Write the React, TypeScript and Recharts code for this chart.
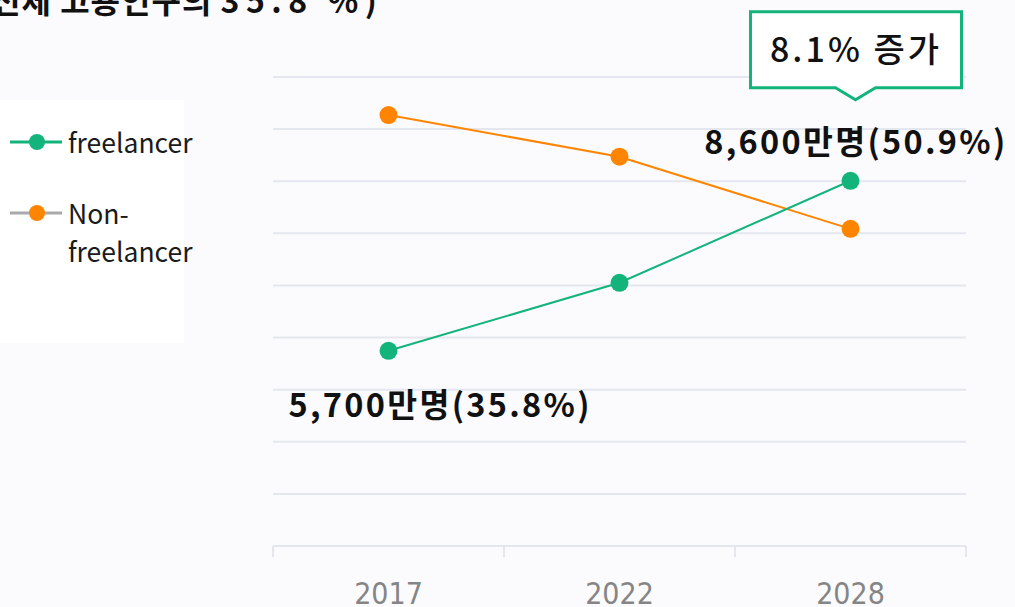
import React from "react";
import { LineChart, Line, XAxis, YAxis, CartesianGrid, LabelList } from "recharts";

const years = ["2017", "2022", "2028"];
// 단위: 백만 명
const freelancer = [57, 68.6, 86];
const nonFreelancer = [97.2, 90.1, 77.8];
const pointLabels = ["5,700만명(35.8%)", "", "8,600만명(50.9%)"];
const calloutText = "8.1% 증가";
const titleText = "전체 고용인구의 ";
const titleTail = "35.8 %)";

const Y_MIN = 23.7;
const Y_MAX = 103.7;
const yTicks = Array.from({ length: 10 }, (_, i) => Y_MIN + ((Y_MAX - Y_MIN) * i) / 9);

const GREEN = "#13b47b";
const ORANGE = "#ff8500";
const GRID = "#e4e7ee";
const FONT = "'Noto Sans CJK KR', 'Noto Sans', sans-serif";

const data = years.map((y, i) => ({ year: y, freelancer: freelancer[i], nonFreelancer: nonFreelancer[i], label: pointLabels[i] }));

function YearTick({ x, y, payload }: any) {
  const half = payload.offset ?? 0;
  return (
    <g>
      <line x1={x - half} x2={x - half} y1={y} y2={y + 11} stroke={GRID} strokeWidth={2} />
      <line x1={x + half} x2={x + half} y1={y} y2={y + 11} stroke={GRID} strokeWidth={2} />
      <text
        x={x}
        y={y + 58}
        textAnchor="middle"
        fill="#858585"
        fontSize={30}
        fontFamily="'Liberation Sans Narrow', 'DejaVu Sans Condensed', sans-serif"
      >
        {payload.value}
      </text>
    </g>
  );
}

function PointLabel({ x, y, index, value }: any) {
  if (!value) return null;
  const labelStyle = { fontSize: 32.5, fontWeight: 700, fontFamily: FONT, fill: "#111", letterSpacing: 2.3 } as any;
  if (index === 0) {
    return (
      <text x={x - 100} y={y + 66} {...labelStyle}>
        {value}
      </text>
    );
  }
  const l = x - 100, r = x + 111, t = y - 169, b = y - 93, tx = x + 5;
  return (
    <g>
      <path
        d={`M${l},${t} L${r},${t} L${r},${b} L${tx + 20},${b} L${tx},${b + 12} L${tx - 20},${b} L${l},${b} Z`}
        fill="#fff"
        stroke={GREEN}
        strokeWidth={3}
      />
      <text x={(l + r) / 2} y={t + 50} textAnchor="middle" fontSize={34} fontWeight={500} fontFamily={FONT} fill="#111" letterSpacing={3}>
        {calloutText}
      </text>
      <text x={x + 157} y={y - 27} textAnchor="end" {...labelStyle}>
        {value}
      </text>
    </g>
  );
}

function LegendBox() {
  const item = (stroke: string, dot: string, lines: string[], top: number) => (
    <div style={{ position: "absolute", left: 0, top, display: "flex", alignItems: "flex-start" }}>
      <svg width={68} height={30}>
        <line x1={10} x2={62} y1={15} y2={15} stroke={stroke} strokeWidth={3} />
        <circle cx={37} cy={15} r={8} fill={dot} />
      </svg>
      <div style={{ fontSize: 26.5, lineHeight: "38px", marginTop: -4, color: "#1a1a1a", fontFamily: FONT }}>
        {lines.map((s) => (
          <div key={s}>{s}</div>
        ))}
      </div>
    </div>
  );
  return (
    <div style={{ position: "absolute", left: 0, top: 100, width: 184, height: 243, background: "#fff" }}>
      {item(GREEN, GREEN, ["freelancer"], 27)}
      {item("#aaaaaa", ORANGE, ["Non-", "freelancer"], 98)}
    </div>
  );
}

export default function App() {
  return (
    <div style={{ position: "absolute", left: 0, top: 0, width: 1015, height: 607, background: "#fbfbfd", overflow: "hidden", fontFamily: FONT }}>
      <div style={{ position: "absolute", left: -9, top: -24, fontSize: 32, fontWeight: 700, color: "#111", whiteSpace: "nowrap", letterSpacing: 1 }}>
        {titleText}
        <span style={{ letterSpacing: 6.5 }}>{titleTail}</span>
      </div>
      <LegendBox />
      <div style={{ position: "absolute", left: 0, top: 0 }}>
        <LineChart width={1015} height={607} data={data} margin={{ top: 77, right: 49, bottom: 0, left: 273 }}>
          <CartesianGrid vertical={false} stroke={GRID} strokeWidth={2} />
          <XAxis
            dataKey="year"
            scale="band"
            height={61}
            axisLine={{ stroke: GRID, strokeWidth: 2 }}
            tickLine={false}
            tickSize={0}
            tickMargin={0}
            tick={<YearTick />}
            interval={0}
          />
          <YAxis hide domain={[Y_MIN, Y_MAX]} ticks={yTicks} type="number" />
          <Line
            isAnimationActive={false}
            dataKey="nonFreelancer"
            name="Non-freelancer"
            stroke={ORANGE}
            strokeWidth={2}
            dot={{ r: 9, fill: ORANGE, stroke: "none" }}
          />
          <Line
            isAnimationActive={false}
            dataKey="freelancer"
            name="freelancer"
            stroke={GREEN}
            strokeWidth={2}
            dot={{ r: 9, fill: GREEN, stroke: "none" }}
          >
            <LabelList dataKey="label" content={<PointLabel />} />
          </Line>
        </LineChart>
      </div>
    </div>
  );
}
